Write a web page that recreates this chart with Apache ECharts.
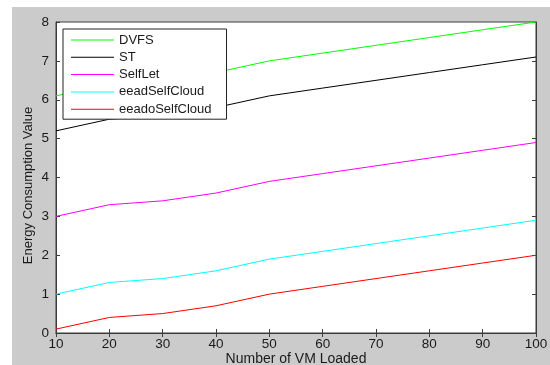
<!DOCTYPE html>
<html>
<head>
<meta charset="utf-8">
<script src="https://cdn.jsdelivr.net/npm/echarts@6/dist/echarts.min.js"></script>
<style>
body{margin:0;padding:0;background:#fff;}
#chart{width:550px;height:365px;}
</style>
</head>
<body>
<div id="chart"></div>
<script>
// data
var vmLoaded = ['10', '20', '30', '40', '50', '60', '70', '80', '90', '100'];
var dvfs = [6.1, 6.4, 6.5, 6.7, 7.0, 7.2, 7.4, 7.6, 7.8, 8.0];
var st = [5.2, 5.5, 5.6, 5.8, 6.1, 6.3, 6.5, 6.7, 6.9, 7.1];
var selfLet = [3.0, 3.3, 3.4, 3.6, 3.9, 4.1, 4.3, 4.5, 4.7, 4.9];
var eeadSelfCloud = [1.0, 1.3, 1.4, 1.6, 1.9, 2.1, 2.3, 2.5, 2.7, 2.9];
var eeadoSelfCloud = [0.1, 0.4, 0.5, 0.7, 1.0, 1.2, 1.4, 1.6, 1.8, 2.0];

var seriesNames = ['DVFS', 'ST', 'SelfLet', 'eeadSelfCloud', 'eeadoSelfCloud'];
var seriesData = [dvfs, st, selfLet, eeadSelfCloud, eeadoSelfCloud];
var seriesColors = ['#00ff00', '#000000', '#ff00ff', '#00ffff', '#ff0000'];

(function(){
	var myChart = echarts.init(document.getElementById('chart'));
	var txt = '#1a1a1a';
	var axisCol = '#3c3c3c';
	var font = 'Arial, "Liberation Sans", sans-serif';

	function lineSeries(i){
		return {
			name: seriesNames[i],
			type: 'line',
			data: seriesData[i],
			symbol: 'none',
			silent: true,
			animation: false,
			lineStyle: { color: seriesColors[i], width: 1 },
			itemStyle: { color: seriesColors[i] }
		};
	}

	var option = {
		backgroundColor: '#fff',
		animation: false,
		//灰色背景
		graphic: [{
			type: 'rect',
			z: -10,
			silent: true,
			shape: { x: 12, y: 7, width: 540, height: 360 },
			style: { fill: '#cbcbcb' }
		}],
		grid: {
			left: 56,
			right: 14,
			top: 22,
			bottom: 32,
			outerBoundsMode: 'none',
			containLabel: false,
			show: true,
			backgroundColor: '#fff',
			borderColor: axisCol,
			borderWidth: 1
		},
		legend: {
			data: seriesNames,
			orient: 'vertical',
			left: 63,
			top: 29,
			backgroundColor: '#fff',
			borderColor: '#222',
			borderWidth: 1,
			padding: [4, 15, 3, 8],
			icon: 'rect',
			itemWidth: 43,
			itemHeight: 1,
			itemGap: 3.3,
			textStyle: { color: txt, fontSize: 13, fontFamily: font, lineHeight: 14 }
		},
		xAxis: [{
			type: 'category',
			boundaryGap: false,
			data: vmLoaded,
			name: 'Number of VM Loaded',
			nameLocation: 'middle',
			nameGap: 19,
			nameMoveOverlap: false,
			nameTextStyle: { color: txt, fontSize: 14, fontFamily: font },
			axisLine: { lineStyle: { color: axisCol } },
			axisTick: { inside: true, length: 4, lineStyle: { color: axisCol } },
			axisLabel: { color: txt, fontSize: 13.5, fontFamily: font, margin: 4 },
			splitLine: { show: false }
		}, {
			type: 'category',
			position: 'top',
			boundaryGap: false,
			data: vmLoaded,
			axisLine: { lineStyle: { color: axisCol } },
			axisTick: { inside: true, length: 4, lineStyle: { color: axisCol } },
			axisLabel: { show: false },
			splitLine: { show: false }
		}],
		yAxis: [{
			type: 'value',
			min: 0,
			max: 8,
			interval: 1,
			name: 'Energy Consumption Value',
			nameLocation: 'middle',
			nameGap: 21,
			nameMoveOverlap: false,
			nameTextStyle: { color: txt, fontSize: 13, fontFamily: font, padding: [0, 16, 0, 0] },
			axisLine: { show: true, lineStyle: { color: axisCol } },
			axisTick: { show: true, inside: true, length: 4, lineStyle: { color: axisCol } },
			axisLabel: { color: txt, fontSize: 13.5, fontFamily: font, margin: 7 },
			splitLine: { show: false }
		}, {
			type: 'value',
			position: 'right',
			min: 0,
			max: 8,
			interval: 1,
			axisLine: { show: true, lineStyle: { color: axisCol } },
			axisTick: { show: true, inside: true, length: 4, lineStyle: { color: axisCol } },
			axisLabel: { show: false },
			splitLine: { show: false }
		}],
		series: [lineSeries(0), lineSeries(1), lineSeries(2), lineSeries(3), lineSeries(4)]
	};
	myChart.setOption(option);
	window.addEventListener('resize', function(){
		myChart.resize();
	});
})();
</script>
</body>
</html>
